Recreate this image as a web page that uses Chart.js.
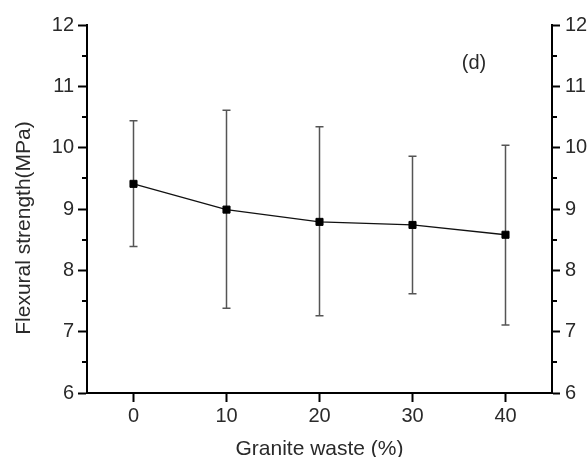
<!DOCTYPE html>
<html>
<head>
<meta charset="utf-8">
<script src="https://cdn.jsdelivr.net/npm/chart.js@4.4.0/dist/chart.umd.min.js"></script>
<style>
  html, body { margin: 0; padding: 0; background: #fff; }
  #wrap { width: 587px; height: 457px; }
</style>
</head>
<body>
<div id="wrap"><canvas id="chart"></canvas></div>
<script>
// granite waste content (%) and flexural strength (MPa)
var graniteWaste = [0, 10, 20, 30, 40];
var strength     = [9.41, 8.99, 8.79, 8.74, 8.58];
var errHigh      = [10.44, 10.61, 10.34, 9.86, 10.04];
var errLow       = [8.39, 7.38, 7.26, 7.62, 7.11];

var yTicks = [6, 7, 8, 9, 10, 11, 12];
var yMinorTicks = [6.5, 7.5, 8.5, 9.5, 10.5, 11.5];

var FONT = "'Liberation Sans', Arial, sans-serif";
var TEXT = '#2a2a2a';

// vertical error bars with caps, drawn under the markers
var errorBars = {
    id: 'errorBars',
    beforeDatasetsDraw: function (chart) {
        var ctx = chart.ctx;
        var xs = chart.scales.x, ys = chart.scales.y;
        ctx.save();
        ctx.strokeStyle = '#555';
        ctx.lineWidth = 1.5;
        for (var i = 0; i < graniteWaste.length; i++) {
            var x = xs.getPixelForValue(graniteWaste[i]);
            var top = ys.getPixelForValue(errHigh[i]);
            var bot = ys.getPixelForValue(errLow[i]);
            ctx.beginPath();
            ctx.moveTo(x, top); ctx.lineTo(x, bot);
            ctx.moveTo(x - 4, top); ctx.lineTo(x + 4, top);
            ctx.moveTo(x - 4, bot); ctx.lineTo(x + 4, bot);
            ctx.stroke();
        }
        ctx.restore();
    }
};

// minor ticks on both y axes, y title and panel letter
var extras = {
    id: 'extras',
    afterDraw: function (chart) {
        var ctx = chart.ctx;
        var area = chart.chartArea;
        ctx.save();
        ctx.strokeStyle = '#000';
        ctx.lineWidth = 2;
        ['y', 'y2'].forEach(function (id) {
            var s = chart.scales[id];
            var left = id === 'y';
            var x0 = left ? area.left : area.right;
            yMinorTicks.forEach(function (v) {
                var py = Math.round(s.getPixelForValue(v));
                ctx.beginPath();
                ctx.moveTo(x0, py);
                ctx.lineTo(left ? x0 - 5 : x0 + 5, py);
                ctx.stroke();
            });
        });

        ctx.fillStyle = TEXT;
        ctx.font = '21px ' + FONT;
        ctx.textAlign = 'center';
        ctx.textBaseline = 'middle';
        ctx.save();
        ctx.translate(24, 228);
        ctx.rotate(-Math.PI / 2);
        ctx.fillText('Flexural strength(MPa)', 0, 0);
        ctx.restore();

        ctx.font = '20px ' + FONT;
        ctx.fillText('(d)', 474, 63);
        ctx.restore();
    }
};

var ctx = document.getElementById('chart').getContext('2d');
new Chart(ctx, {
    type: 'line',
    data: {
        datasets: [{
            data: graniteWaste.map(function (x, i) { return { x: x, y: strength[i] }; }),
            borderColor: '#111',
            borderWidth: 1.3,
            pointStyle: 'rect',
            pointRadius: 5,
            pointBackgroundColor: '#000',
            pointBorderColor: '#000',
            pointBorderWidth: 1,
            tension: 0
        }]
    },
    options: {
        responsive: true,
        maintainAspectRatio: false,
        animation: false,
        events: [],
        layout: { padding: { top: 25, left: 0, right: 0, bottom: 0 } },
        plugins: { legend: { display: false }, tooltip: { enabled: false } },
        scales: {
            x: {
                type: 'linear',
                min: -5,
                max: 45,
                afterBuildTicks: function (s) {
                    s.ticks = graniteWaste.map(function (v) { return { value: v }; });
                },
                afterFit: function (s) { s.height = 64; },
                grid: { drawOnChartArea: false, tickLength: 9, tickWidth: 2, tickColor: '#000' },
                border: { display: true, color: '#000', width: 2 },
                ticks: { color: TEXT, font: { family: FONT, size: 20 }, padding: 2, maxRotation: 0 },
                title: {
                    display: true,
                    text: 'Granite waste (%)',
                    color: TEXT,
                    font: { family: FONT, size: 21, lineHeight: 0.72 },
                    padding: { top: 0, bottom: 0 }
                }
            },
            y: {
                position: 'left',
                min: 6,
                max: 12,
                afterBuildTicks: function (s) {
                    s.ticks = yTicks.map(function (v) { return { value: v }; });
                },
                afterFit: function (s) { s.width = 87; },
                grid: { drawOnChartArea: false, tickLength: 9, tickWidth: 2, tickColor: '#000' },
                border: { display: true, color: '#000', width: 2 },
                ticks: { color: TEXT, font: { family: FONT, size: 20 }, padding: 4 }
            },
            y2: {
                position: 'right',
                min: 6,
                max: 12,
                afterBuildTicks: function (s) {
                    s.ticks = yTicks.map(function (v) { return { value: v }; });
                },
                afterFit: function (s) { s.width = 35; },
                grid: { drawOnChartArea: false, tickLength: 8, tickWidth: 2, tickColor: '#000' },
                border: { display: true, color: '#000', width: 2 },
                ticks: { color: TEXT, font: { family: FONT, size: 20 }, padding: 5 }
            }
        }
    },
    plugins: [errorBars, extras]
});
</script>
</body>
</html>
